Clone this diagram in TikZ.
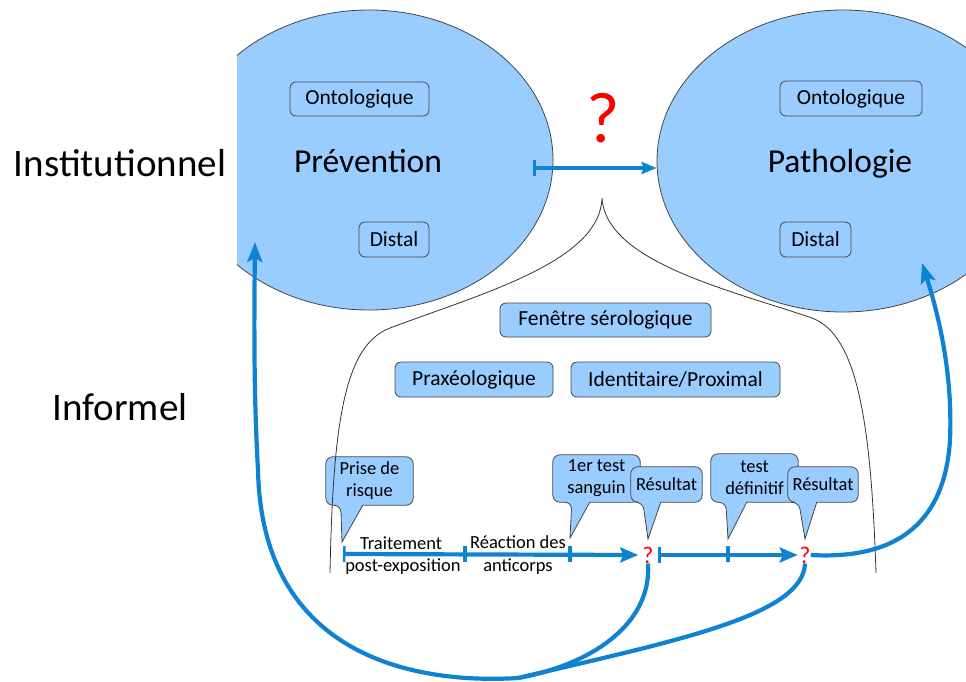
\documentclass[tikz,border=0pt]{standalone}
\usepackage{fontspec}
\setmainfont{Carlito}
\usetikzlibrary{arrows.meta,shapes.geometric}
\pgfdeclarelayer{bg}
\pgfdeclarelayer{bub}
\pgfsetlayers{bg,bub,main}
\definecolor{fillblue}{RGB}{153,204,255}
\definecolor{lineblue}{RGB}{16,130,210}
\definecolor{qred}{RGB}{255,0,0}
\definecolor{edgegray}{RGB}{70,70,70}
\newcommand\mkbubble[4]{%
  \draw[bubshape] (#1.east) [rounded corners=7pt] -- (#1.north east) -- (#1.north west) -- (#1.south west) -- ([xshift=#2]#1.south west) [sharp corners] -- (#4) -- ([xshift=#3]#1.south west) [rounded corners=7pt] -- (#1.south east) -- cycle;}
\begin{document}
\begin{tikzpicture}[x=1pt,y=-1pt,
  ell/.style={ellipse, fill=fillblue, draw=edgegray, line width=0.8pt, inner sep=0pt},
  box/.style={rectangle, rounded corners=6pt, fill=fillblue, draw=edgegray, line width=0.8pt, inner sep=0pt, font=\fontsize{21.5}{24}\selectfont},
  bubtxt/.style={inner sep=0pt, align=center, font=\fontsize{18.5}{22}\selectfont},
  bubshape/.style={fill=fillblue, draw=edgegray, line width=0.8pt},
  biglabel/.style={font=\fontsize{39}{44}\selectfont, anchor=base, inner sep=0pt},
  elltext/.style={font=\fontsize{33.5}{38}\selectfont, anchor=base, inner sep=0pt},
  tltext/.style={font=\fontsize{18.5}{22}\selectfont, anchor=base, inner sep=0pt},
  qsmall/.style={text=qred, font=\fontsize{24}{24}\selectfont, inner sep=0pt},
  conn/.style={draw=lineblue, line width=4.2pt},
  tick/.style={draw=lineblue, line width=3.2pt},
  brace/.style={draw=black!80, line width=0.8pt},
  tip/.style={-{Stealth[length=20pt,width=15pt,inset=4pt]}}
]
\useasboundingbox (0,0) rectangle (966,681);
\begin{pgfonlayer}{bg}
  \fill[white] (0,0) rectangle (966,681);
\end{pgfonlayer}

% ellipses
\begin{scope}
  \clip (237,0) rectangle (966,681);
  \node[ell, minimum width=368pt, minimum height=300pt] (prev) at (369,160) {};
\end{scope}
\node[ell, minimum width=372pt, minimum height=302pt] (path) at (843,161) {};
\node[elltext] (prevtxt) at (368,172) {Prévention};
\node[elltext] (pathtxt) at (840,172) {Pathologie};

% side labels
\node[biglabel] (inst) at (120,176) {Institutionnel};
\node[biglabel] (info) at (120,420) {Informel};

% boxes in ellipses
\node[box, minimum width=139pt, minimum height=34pt] (lont) at (359.5,99) {Ontologique};
\node[box, minimum width=70pt, minimum height=35pt] (ldist) at (394,239.5) {Distal};
\node[box, minimum width=142pt, minimum height=35pt] (ront) at (851,98.5) {Ontologique};
\node[box, minimum width=71pt, minimum height=35pt] (rdist) at (815.5,239.5) {Distal};

% big question mark
\node[text=qred, font=\fontsize{72}{72}\selectfont, inner sep=0pt] (bigq) at (603,118) {?};

% brace
\draw[brace] (330,573) .. controls (333,420) and (345,345) .. (390,328)
  .. controls (480,294) and (600,262) .. (602,198)
  .. controls (606,262) and (730,290) .. (812,318)
  .. controls (857,335) and (871,420) .. (876,573);

% middle boxes
\node[box, minimum width=211pt, minimum height=34pt] (fen) at (605.5,320) {Fenêtre sérologique};
\node[box, minimum width=158pt, minimum height=35pt] (prax) at (474,379.5) {Praxéologique};
\node[box, minimum width=209pt, minimum height=35pt] (ident) at (675.5,379.5) {Identitaire/Proximal};

% top arrow
\coordinate (topbar) at (533,168);
\draw[conn, line width=3.6pt, {Bar[width=16pt,line width=2.5pt]}-{Stealth[length=15pt,width=12pt,inset=2pt]}] (topbar) -- (topbar -| path.west);

% timeline
\coordinate (t0) at (343,554);
\node[qsmall] (q1) at (648,555) {?};
\node[qsmall] (q2) at (805,555) {?};
\draw[conn, {Bar[width=16pt,line width=2.5pt]}-{Stealth[length=18pt,width=15pt,inset=3pt]}, shorten >=4pt] (t0) -- (q1.west);
\draw[conn, {Bar[width=16pt,line width=2.5pt]}-{Stealth[length=18pt,width=15pt,inset=3pt]}, shorten <=4.5pt, shorten >=1.5pt] (q1.east) -- (q2.west);
\draw[tick] (465,546) -- (465,562);
\draw[tick] (570,546) -- (570,562);
\draw[tick] (728,546) -- (728,562);

\node[tltext] (trait1) at (401,549) {Traitement};
\node[tltext] (trait2) at (403,571) {post-exposition};
\node[tltext] (reac1) at (518,548) {Réaction des};
\node[tltext] (reac2) at (518,571) {anticorps};

% callouts
\node[bubtxt, minimum width=87pt, minimum height=48pt] (prise) at (369.5,481) {Prise de\\risque};
\node[bubtxt, minimum width=87pt, minimum height=47pt] (test1) at (596.5,478.5) {1er test\\sanguin};
\node[bubtxt, minimum width=71pt, minimum height=35pt] (res1) at (666.5,484.5) {Résultat};
\node[bubtxt, minimum width=87pt, minimum height=48pt] (testdef) at (754.5,478) {test\\définitif};
\node[bubtxt, minimum width=70pt, minimum height=35pt] (res2) at (823,484.5) {Résultat};
\coordinate (tipprise) at (342,542);
\coordinate (tiptest1) at (570,538);
\coordinate (tipres1) at (648,539);
\coordinate (tiptestdef) at (728,539);
\coordinate (tipres2) at (805,539);
\begin{pgfonlayer}{bub}
  \mkbubble{prise}{15pt}{37pt}{tipprise}
  \mkbubble{test1}{19pt}{37pt}{tiptest1}
  \mkbubble{res1}{12pt}{30pt}{tipres1}
  \mkbubble{testdef}{15pt}{36pt}{tiptestdef}
  \mkbubble{res2}{11pt}{29pt}{tipres2}
\end{pgfonlayer}

% feedback curves
\coordinate (join) at (518,678);
\coordinate (prevIn) at (255,242);
\coordinate (pathIn) at (922,263);
\draw[conn, tip] (q1.south) .. controls (652,625) and (590,665) .. (join)
  .. controls (420,684) and (262,660) .. (258,470)
  .. controls (254,400) and (254,330) .. (prevIn);
\draw[conn] (q2.south) .. controls (803,615) and (680,640) .. (join);
\draw[conn, tip] (q2.east) .. controls (900,560) and (945,520) .. (950,440)
  .. controls (953,370) and (937,310) .. (pathIn);
\end{tikzpicture}
\end{document}
